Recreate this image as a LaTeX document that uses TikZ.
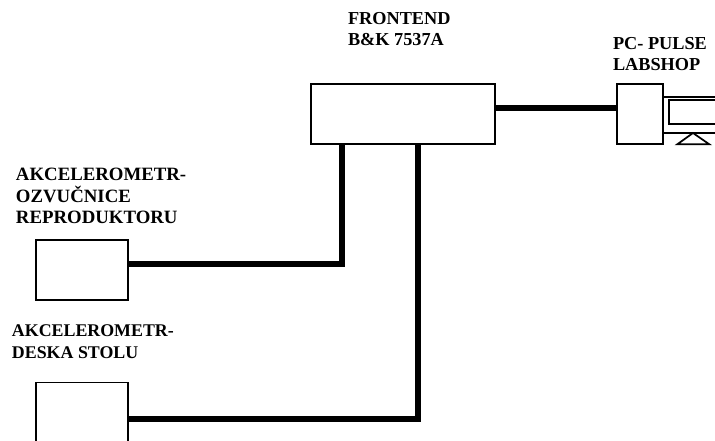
\documentclass[tikz,border=0pt]{standalone}
\usepackage{fontspec}
\setmainfont{Liberation Serif}
\begin{document}
\begin{tikzpicture}[x=0.75pt,y=-0.75pt,
  box/.style={draw=black,line width=1.2pt,fill=white,inner sep=0pt,outer sep=0pt},
  wire/.style={draw=black,line width=4.4pt},
  thinline/.style={draw=black,line width=1.3pt},
  lbl/.style={anchor=north west,inner sep=0pt,outer sep=0pt,align=left,font=\bfseries\fontsize{13.7pt}{16.3pt}\selectfont}]
\useasboundingbox (0,0) rectangle (715,441);
\clip (0,0) rectangle (715,441);
% boxes
\node[box,minimum width=138pt,minimum height=45pt] (front) at (402.7,114.3) {};
\node[box,minimum width=34.5pt,minimum height=45pt] (pc) at (639.7,114.3) {};
\node[box,minimum width=69pt,minimum height=45pt] (acc1) at (81.7,270) {};
\node[box,minimum width=69pt,minimum height=45pt] (acc2) at (81.7,412.7) {};
% monitor
\coordinate (mTop) at (715,97);
\coordinate (mBot) at (715,133);
\draw[thinline] (pc.east |- mTop) -- (mTop);
\draw[thinline] (pc.east |- mBot) -- (mBot);
\draw[thinline] (730,100) -- (669,100) -- (669,124.3) -- (730,124.3);
\draw[thinline,line join=miter] (693,133) -- (709.3,144.3) -- (677.3,144.3) -- cycle;
% connectors
\coordinate (fOut) at (front.east |- 0,108.3);
\coordinate (pcIn) at (pc.west |- 0,108.3);
\draw[wire] (fOut) -- (pcIn);
\coordinate (a1) at (acc1.east |- 0,264);
\coordinate (t1) at (341.7,0 |- front.south);
\draw[wire] (a1) -| (t1);
\coordinate (a2) at (acc2.east |- 0,419);
\coordinate (t2) at (418,0 |- front.south);
\draw[wire] (a2) -| (t2);
% labels
\node[lbl] (lf) at (348,12) {FRONTEND\\B\&K 7537A};
\node[lbl] (lp) at (613,37) {PC- PULSE\\LABSHOP};
\node[lbl,font=\bfseries\fontsize{14.1pt}{16.3pt}\selectfont] (l1) at (16,168) {AKCELEROMETR-\\OZVUČNICE\\REPRODUKTORU};
\node[lbl,font=\bfseries\fontsize{13.4pt}{16.3pt}\selectfont] (l2) at (12,325) {AKCELEROMETR-\\DESKA STOLU};
\end{tikzpicture}
\end{document}
